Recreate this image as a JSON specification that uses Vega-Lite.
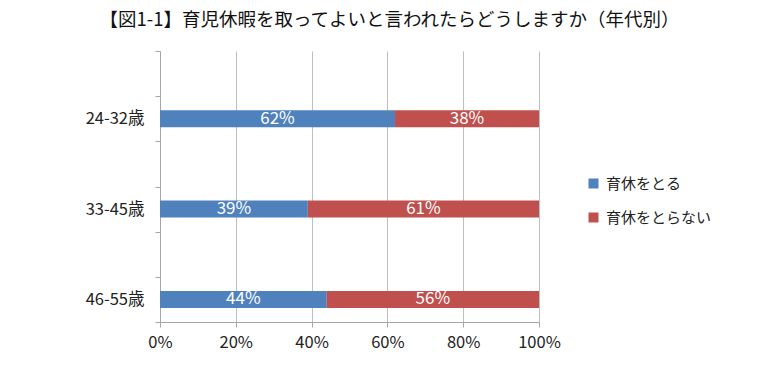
{
  "$schema": "https://vega.github.io/schema/vega-lite/v6.json",
  "width": 379,
  "height": 271,
  "autosize": {"type": "none"},
  "padding": {"left": 160, "top": 51, "right": 241, "bottom": 44},
  "background": "white",
  "config": {"font": "Noto Sans CJK JP", "view": {"stroke": null}},
  "title": {
    "text": "【図1-1】育児休暇を取ってよいと言われたらどうしますか（年代別）",
    "fontSize": 18.5,
    "fontWeight": "normal",
    "color": "#111111",
    "anchor": "middle",
    "dx": 40,
    "offset": 14
  },
  "data": {
    "values": [
      {"age": "24-32歳", "choice": "育休をとる", "pct": 0.62},
      {"age": "24-32歳", "choice": "育休をとらない", "pct": 0.38},
      {"age": "33-45歳", "choice": "育休をとる", "pct": 0.39},
      {"age": "33-45歳", "choice": "育休をとらない", "pct": 0.61},
      {"age": "46-55歳", "choice": "育休をとる", "pct": 0.44},
      {"age": "46-55歳", "choice": "育休をとらない", "pct": 0.56}
    ]
  },
  "transform": [
    {"stack": "pct", "groupby": ["age"], "sort": [{"field": "choice", "order": "descending"}], "as": ["x0", "x1"]}
  ],
  "encoding": {
    "y": {
      "field": "age",
      "type": "nominal",
      "scale": {"domain": [" ", "24-32歳", "  ", "33-45歳", "   ", "46-55歳"], "paddingInner": 0, "paddingOuter": 0},
      "axis": {
        "title": null,
        "tickBand": "extent",
        "ticks": true,
        "tickSize": 5,
        "tickColor": "#a6a6a6",
        "domainColor": "#a6a6a6",
        "labelFontSize": 16.5,
        "labelColor": "#222222",
        "labelPadding": 11,
        "grid": false
      }
    }
  },
  "layer": [
    {
      "mark": {"type": "bar", "size": 17},
      "encoding": {
        "x": {
          "field": "x0",
          "type": "quantitative",
          "scale": {"domain": [0, 1], "nice": false},
          "axis": {
            "title": null,
            "format": ".0%",
            "values": [0, 0.2, 0.4, 0.6, 0.8, 1],
            "grid": true,
            "gridColor": "#bfbfbf",
            "tickSize": 5,
            "tickColor": "#a6a6a6",
            "domainColor": "#a6a6a6",
            "labelFontSize": 16.5,
            "labelColor": "#222222",
            "labelPadding": 7,
            "labelFlush": false
          }
        },
        "x2": {"field": "x1"},
        "color": {
          "field": "choice",
          "type": "nominal",
          "scale": {"domain": ["育休をとる", "育休をとらない"], "range": ["#4F81BD", "#C0504D"]},
          "legend": {
            "title": null,
            "orient": "none",
            "legendX": 426,
            "legendY": 125,
            "symbolType": "square",
            "symbolSize": 100,
            "symbolStrokeWidth": 0,
            "labelFontSize": 15,
            "labelColor": "#222222",
            "rowPadding": 18,
            "labelOffset": 5,
            "padding": 0
          }
        }
      }
    },
    {
      "transform": [
        {"fold": ["x0", "x1"], "as": ["edge", "pos"]},
        {"aggregate": [{"op": "mean", "field": "pos", "as": "mid"}], "groupby": ["age", "choice", "pct"]}
      ],
      "mark": {"type": "text", "color": "white", "fontSize": 17, "baseline": "middle", "align": "center"},
      "encoding": {
        "x": {"field": "mid", "type": "quantitative"},
        "text": {"field": "pct", "type": "quantitative", "format": ".0%"}
      }
    }
  ]
}
